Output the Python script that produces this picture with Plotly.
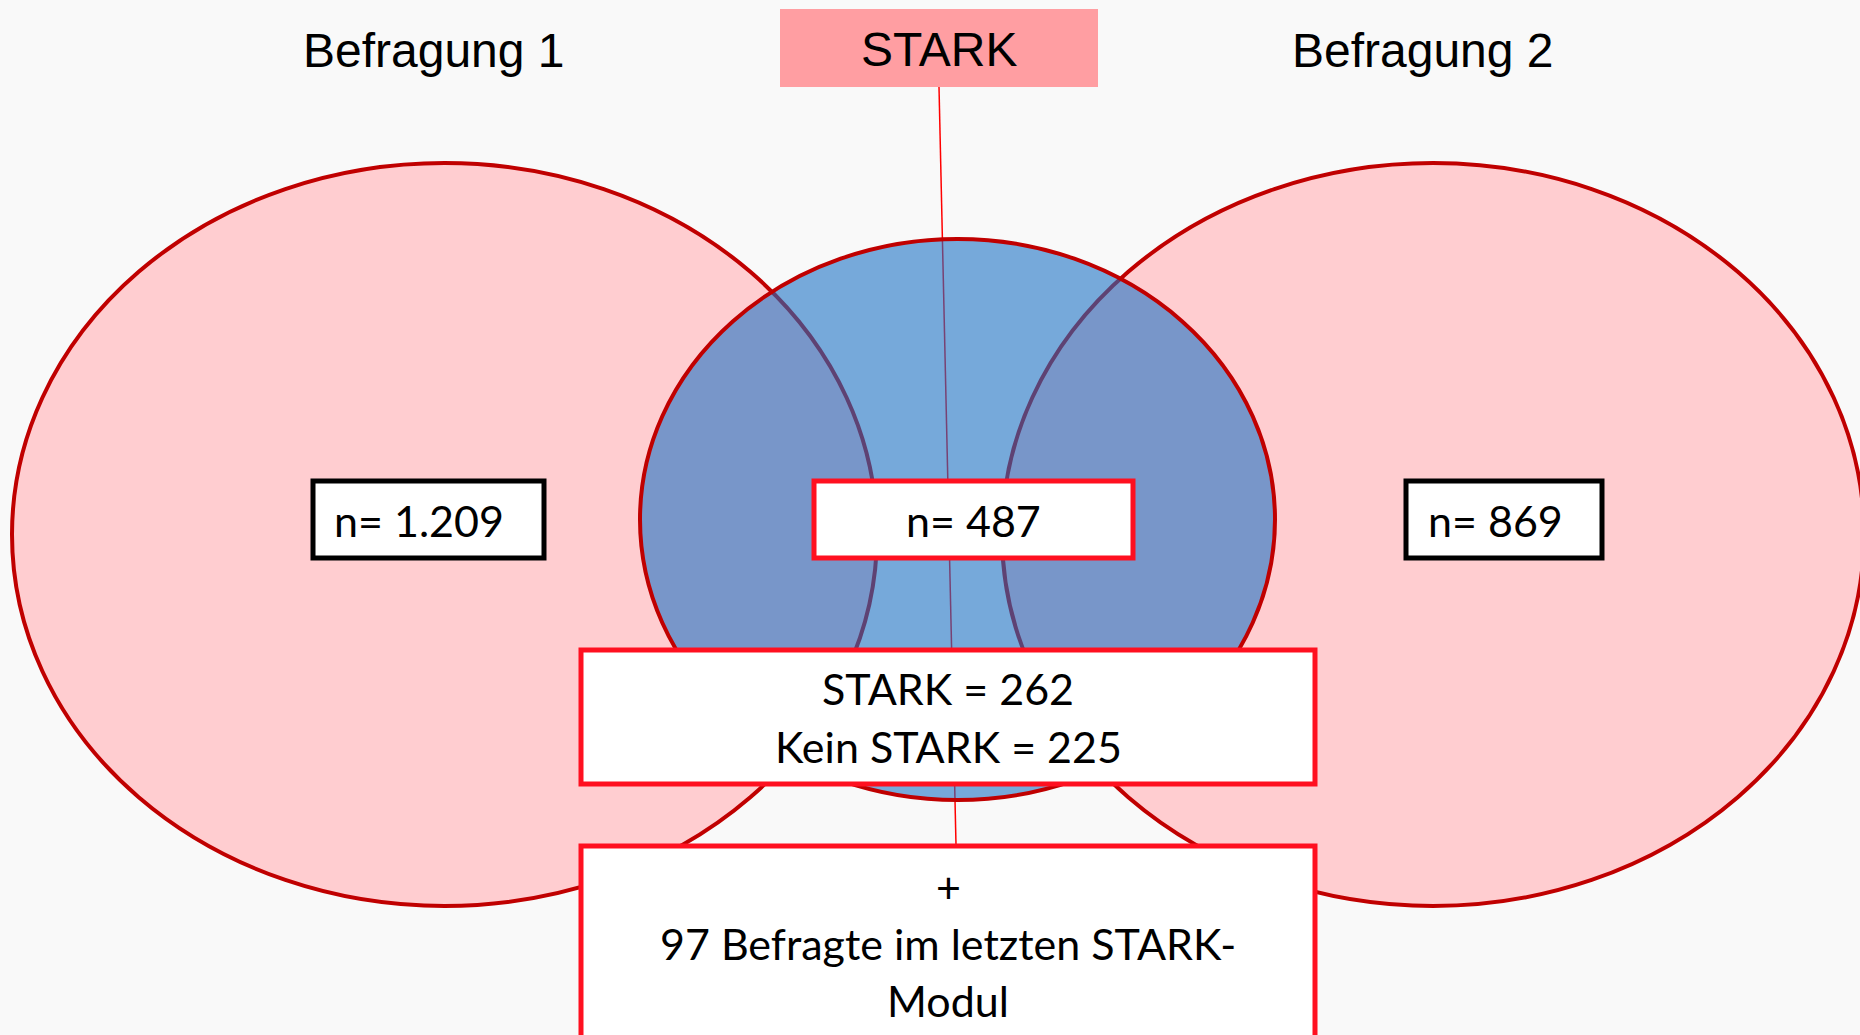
import plotly.graph_objects as go

# ---- data ----
survey_labels = ["Befragung 1", "STARK", "Befragung 2"]
survey_n = [1209, 487, 869]
split_labels = ["STARK", "Kein STARK"]
split_values = [262, 225]
extra_respondents = [97]

W, H = 1860, 1035
BG = "rgb(249,249,249)"
PINK = "rgb(255,205,208)"
DARKRED = "rgb(192,0,0)"
BLUE = "rgba(25,113,195,0.59)"
BRIGHTRED = "rgb(255,16,32)"


def de_num(v):
    return f"{v:,}".replace(",", ".")


fig = go.Figure()
fig.add_trace(go.Scatter(x=[], y=[], showlegend=False))

shapes = []
# pink survey ellipses
for (x0, x1) in [(12, 877), (1002, 1864)]:
    shapes.append(dict(type="circle", xref="x", yref="y", x0=x0, x1=x1, y0=163, y1=906,
                       fillcolor=PINK, line=dict(color=DARKRED, width=4)))
# connector line from STARK label
shapes.append(dict(type="line", xref="x", yref="y", x0=939, y0=87, x1=956, y1=845,
                   line=dict(color="rgb(255,0,0)", width=1.5)))
# blue STARK ellipse
shapes.append(dict(type="circle", xref="x", yref="y", x0=640, x1=1275, y0=239, y1=800,
                   fillcolor=BLUE, line=dict(color=DARKRED, width=4)))
# STARK header box
shapes.append(dict(type="rect", xref="x", yref="y", x0=780, x1=1098, y0=9, y1=87,
                   fillcolor="rgb(255,158,162)", line=dict(width=0)))
# n boxes
shapes.append(dict(type="rect", xref="x", yref="y", x0=313, x1=544, y0=481, y1=558,
                   fillcolor="white", line=dict(color="black", width=5)))
shapes.append(dict(type="rect", xref="x", yref="y", x0=814, x1=1133, y0=481, y1=558,
                   fillcolor="white", line=dict(color=BRIGHTRED, width=5)))
shapes.append(dict(type="rect", xref="x", yref="y", x0=1406, x1=1602, y0=481, y1=558,
                   fillcolor="white", line=dict(color="black", width=5)))
# split box
shapes.append(dict(type="rect", xref="x", yref="y", x0=581, x1=1315, y0=650, y1=784,
                   fillcolor="white", line=dict(color=BRIGHTRED, width=5)))
# extra box
shapes.append(dict(type="rect", xref="x", yref="y", x0=581, x1=1315, y0=846, y1=1080,
                   fillcolor="white", line=dict(color=BRIGHTRED, width=5)))

head_font = dict(family="Liberation Sans, Arial", size=48, color="black")
box_font = dict(family="Lato", size=43, color="black")

ann = []
ann.append(dict(x=434, y=50, text=survey_labels[0], font=head_font))
ann.append(dict(x=939, y=49, text=survey_labels[1], font=head_font))
ann.append(dict(x=1423, y=50, text=survey_labels[2], font=head_font))

ann.append(dict(x=332, y=520, text=f"n= {de_num(survey_n[0])}", font=box_font, xanchor="left"))
ann.append(dict(x=973, y=520, text=f"n= {de_num(survey_n[1])}", font=box_font))
ann.append(dict(x=1426, y=520, text=f"n= {de_num(survey_n[2])}", font=box_font, xanchor="left"))

ann.append(dict(x=948, y=688, text=f"{split_labels[0]} = {split_values[0]}", font=box_font))
ann.append(dict(x=948, y=746, text=f"{split_labels[1]} = {split_values[1]}", font=box_font))

ann.append(dict(x=948, y=886, text="+", font=box_font))
ann.append(dict(x=948, y=943, text=f"{extra_respondents[0]} Befragte im letzten STARK-", font=box_font))
ann.append(dict(x=948, y=1000, text="Modul", font=box_font))

for a in ann:
    a.update(xref="x", yref="y", showarrow=False)
    a.setdefault("xanchor", "center")
    a.setdefault("yanchor", "middle")

fig.update_layout(
    width=W, height=H,
    margin=dict(l=0, r=0, t=0, b=0),
    paper_bgcolor=BG, plot_bgcolor=BG,
    shapes=shapes, annotations=ann,
    showlegend=False,
    xaxis=dict(range=[0, W], visible=False, fixedrange=True),
    yaxis=dict(range=[H, 0], visible=False, fixedrange=True),
)

fig.write_html("out.html", config={"displayModeBar": False},
               post_script="document.body.style.margin='0';document.body.style.overflow='hidden';")
